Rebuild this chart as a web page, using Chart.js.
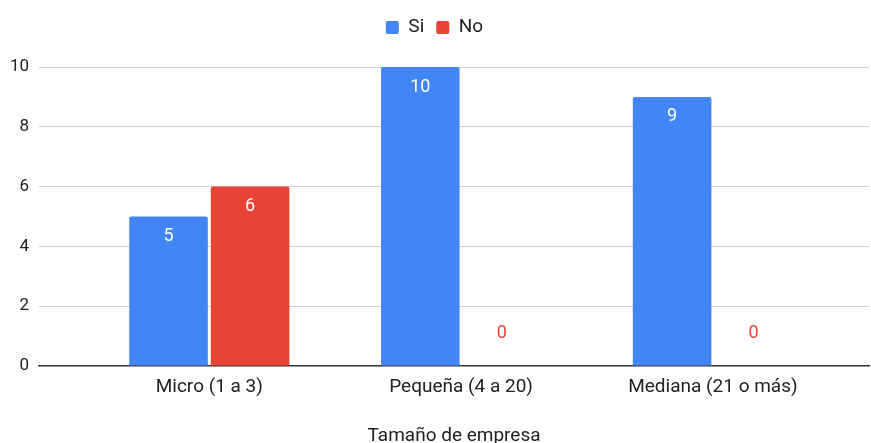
<!DOCTYPE html>
<html>
<head>
<meta charset="utf-8">
<script src="https://cdn.jsdelivr.net/npm/chart.js@4"></script>
<style>
  html, body { margin: 0; padding: 0; background: #fff; }
  #wrap { width: 871px; height: 443px; }
</style>
</head>
<body>
<div id="wrap"><canvas id="tamanoChart"></canvas></div>
<script>
// tamaño de empresa vs respuesta
const categories = ['Micro (1 a 3)', 'Pequeña (4 a 20)', 'Mediana (21 o más)'];
const siValues = [5, 10, 9];
const noValues = [6, 0, 0];
const yTicks = [0, 2, 4, 6, 8, 10];

const BLUE = '#4285F4';
const RED = '#EA4335';
const FONT = 'Roboto, Arial, sans-serif';

// etiquetas de valor: dentro de la barra en blanco, o sobre la base si es 0
const valueLabels = {
    id: 'valueLabels',
    afterDatasetsDraw(chart) {
        const ctx = chart.ctx;
        ctx.save();
        ctx.font = '18px ' + FONT;
        ctx.textAlign = 'center';
        ctx.textBaseline = 'middle';
        chart.data.datasets.forEach((ds, di) => {
            const meta = chart.getDatasetMeta(di);
            meta.data.forEach((bar, i) => {
                const v = ds.data[i].y;
                if (v > 0) {
                    ctx.fillStyle = '#ffffff';
                    ctx.fillText(String(v), bar.x, bar.y + 20);
                } else {
                    ctx.fillStyle = ds.backgroundColor;
                    ctx.fillText(String(v), bar.x, bar.base - 32);
                }
            });
        });
        ctx.restore();
    }
};

// un poco más de aire debajo de la leyenda
const legendSpacing = {
    id: 'legendSpacing',
    beforeInit(chart) {
        const fit = chart.legend.fit;
        chart.legend.fit = function () {
            fit.bind(chart.legend)();
            this.height += 20;
        };
    }
};

function toPoints(values) {
    return values.map((v, i) => ({ x: i, y: v }));
}

new Chart(document.getElementById('tamanoChart'), {
    type: 'bar',
    data: {
        datasets: [
            { label: 'Si', data: toPoints(siValues), backgroundColor: BLUE },
            { label: 'No', data: toPoints(noValues), backgroundColor: RED }
        ]
    },
    options: {
        responsive: true,
        maintainAspectRatio: false,
        animation: false,
        categoryPercentage: 0.648,
        barPercentage: 0.963,
        borderRadius: { topLeft: 2, topRight: 2 },
        borderSkipped: 'start',
        layout: { padding: { left: 0, right: 2, top: 6, bottom: 0 } },
        plugins: {
            legend: {
                position: 'top',
                align: 'center',
                labels: {
                    boxWidth: 13,
                    boxHeight: 13,
                    useBorderRadius: true,
                    borderRadius: 2,
                    padding: 12,
                    color: '#222',
                    font: { family: FONT, size: 19 }
                }
            },
            tooltip: { enabled: false }
        },
        scales: {
            x: {
                type: 'linear',
                min: -0.676,
                max: 2.62,
                offset: false,
                afterBuildTicks: (axis) => { axis.ticks = categories.map((c, i) => ({ value: i })); },
                ticks: {
                    autoSkip: false,
                    maxRotation: 0,
                    padding: 10,
                    color: '#222',
                    font: { family: FONT, size: 19 },
                    callback: (v) => categories[v]
                },
                grid: { display: false, drawTicks: false },
                border: { display: true, color: '#333', width: 1.5 },
                title: {
                    display: true,
                    text: 'Tamaño de empresa',
                    color: '#222',
                    font: { family: FONT, size: 19, lineHeight: 0.7 },
                    padding: { top: 21, bottom: 0 }
                }
            },
            y: {
                min: 0,
                max: 10,
                afterBuildTicks: (axis) => { axis.ticks = yTicks.map(v => ({ value: v })); },
                ticks: {
                    padding: 10,
                    color: '#222',
                    font: { family: FONT, size: 17 }
                },
                grid: { color: '#d0d0d0', drawTicks: false, lineWidth: 1 },
                border: { display: false }
            }
        }
    },
    plugins: [valueLabels, legendSpacing]
});
</script>
</body>
</html>
